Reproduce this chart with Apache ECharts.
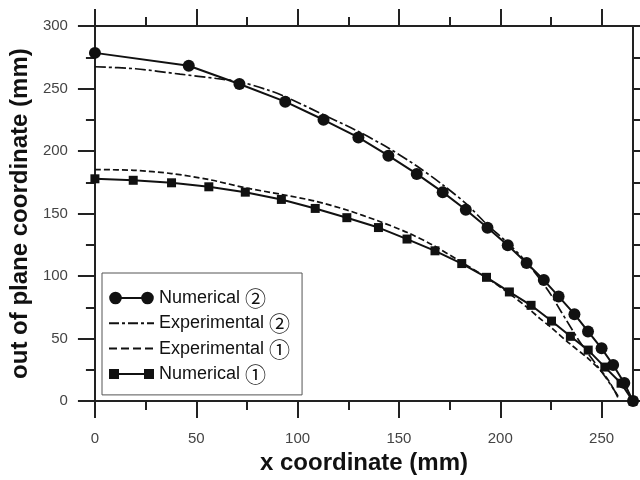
<!DOCTYPE html>
<html><head><meta charset="utf-8">
<script src="https://cdn.jsdelivr.net/npm/echarts@6/dist/echarts.min.js"></script>
<style>html,body{margin:0;padding:0;background:#fff}#c{width:640px;height:480px}</style>
</head><body><div id="c"></div>
<script>
// ---- data ----
const seriesNames = ['Numerical \u2461', 'Experimental \u2461', 'Experimental \u2460', 'Numerical \u2460'];

const num2X = [0, 46.3, 71.3, 93.9, 112.8, 130, 144.8, 158.8, 171.6, 183, 193.7, 203.7, 213, 221.5, 228.8, 236.6, 243.3, 250, 255.7, 261.2, 265.5];
const num2Y = [278.5, 268.2, 253.6, 239.5, 225, 210.9, 196.3, 181.7, 167.1, 153, 138.7, 124.7, 110.4, 96.8, 83.7, 69.5, 55.7, 42.2, 28.9, 14.5, 0];

const exp2X = [0, 20, 42, 60, 71.3, 85, 93.9, 112.8, 130, 144.8, 158.8, 172, 183.4, 193.3, 204, 214, 223.7, 230.2, 232.7, 239.3, 245.8, 252.4, 257.3, 259];
const exp2Y = [267.4, 265.8, 261.5, 258, 255.4, 249, 243.5, 229, 215.6, 202.4, 188, 172.5, 157.5, 141.5, 126, 109, 88.3, 71.1, 64.5, 47.3, 32.6, 18.1, 6.1, 2];

const exp1X = [0, 19.2, 37.8, 56.2, 74.2, 92, 108.7, 124.3, 139.9, 154.2, 167, 181, 193, 204.5, 214, 219.6, 225, 234.3, 243.4, 251.6, 256.5, 258];
const exp1Y = [185.2, 184.6, 182, 177.2, 170.6, 165.3, 159.9, 152.8, 144, 134.8, 124.5, 111, 99, 86, 74, 66, 59, 45.9, 34, 20.7, 8, 3];

const num1X = [0, 18.9, 37.8, 56.2, 74.2, 92, 108.7, 124.3, 139.9, 154, 167.8, 181, 193.2, 204.5, 215.2, 225.3, 234.6, 243.4, 251.6, 259.6, 265.5];
const num1Y = [177.8, 176.6, 174.6, 171.4, 167.1, 161.3, 154.1, 146.7, 138.8, 129.6, 120.2, 110, 99, 87.3, 76.6, 64, 51.8, 40.8, 27.2, 14.3, 0];

const xTicks = [0, 50, 100, 150, 200, 250];
const xMinorTicks = [25, 75, 125, 175, 225];
const yTicks = [0, 50, 100, 150, 200, 250, 300];
const yMinorTicks = [25, 75, 125, 175, 225, 275];
const xMin = 0, xMax = 265.5, yMin = 0, yMax = 300;

// ---- build ----
const pairs = (xs, ys) => xs.map((x, i) => [x, ys[i]]);
const FONT = "'Liberation Sans', Arial, 'DejaVu Sans', 'Noto Sans CJK JP', sans-serif";
const AX = '#222';

function xAx(pos, vals, len, withLabels) {
  return {
    type: 'value', position: pos, min: xMin, max: xMax,
    axisLine: { show: true, onZero: false, lineStyle: { color: AX, width: 2 } },
    axisTick: { show: true, inside: false, length: len, customValues: vals, lineStyle: { color: AX, width: 2 } },
    axisLabel: withLabels ? { show: true, customValues: vals, margin: 30, color: '#444', fontSize: 15, fontFamily: FONT } : { show: false },
    splitLine: { show: false }
  };
}
function yAx(pos, vals, len, withLabels) {
  return {
    type: 'value', position: pos, min: yMin, max: yMax,
    axisLine: { show: true, onZero: false, lineStyle: { color: AX, width: 2 } },
    axisTick: { show: true, inside: false, length: len, customValues: vals, lineStyle: { color: AX, width: 2 } },
    axisLabel: withLabels ? { show: true, customValues: vals, margin: 27, color: '#444', fontSize: 15, fontFamily: FONT } : { show: false },
    splitLine: { show: false }
  };
}

const xAxes = [
  Object.assign(xAx('bottom', xTicks, 17, true), {
    name: 'x coordinate (mm)', nameLocation: 'middle', nameGap: 42,
    nameTextStyle: { fontSize: 24, fontWeight: 'bold', color: '#111', fontFamily: FONT }
  }),
  xAx('bottom', xMinorTicks, 9, false),
  xAx('top', xTicks, 17, false),
  xAx('top', xMinorTicks, 9, false)
];
const yAxes = [
  Object.assign(yAx('left', yTicks, 17, true), {
    name: 'out of plane coordinate (mm)', nameLocation: 'middle', nameGap: 52,
    nameTextStyle: { fontSize: 24, fontWeight: 'bold', color: '#111', fontFamily: FONT }
  }),
  yAx('left', yMinorTicks, 9, false),
  yAx('right', yTicks, 17, false),
  yAx('right', yMinorTicks, 9, false)
];

// legend icons (45 x 13 box)
const bbox = 'M0,0 M45,13 ';
const iconCircles = bbox +
  'M0.2,6.5 A6.3,6.3 0 1,1 12.8,6.5 A6.3,6.3 0 1,1 0.2,6.5 Z ' +
  'M32.2,6.5 A6.3,6.3 0 1,1 44.8,6.5 A6.3,6.3 0 1,1 32.2,6.5 Z ' +
  'M6.5,5.5 L38.5,5.5 L38.5,7.5 L6.5,7.5 Z';
const iconDashDot = bbox +
  'M0,5.5 L10,5.5 L10,7.5 L0,7.5 Z M13,5.5 L16,5.5 L16,7.5 L13,7.5 Z ' +
  'M19,5.5 L29,5.5 L29,7.5 L19,7.5 Z M32,5.5 L35,5.5 L35,7.5 L32,7.5 Z ' +
  'M38,5.5 L45,5.5 L45,7.5 L38,7.5 Z';
const iconDash = bbox +
  'M0,5.5 L8,5.5 L8,7.5 L0,7.5 Z M12,5.5 L20,5.5 L20,7.5 L12,7.5 Z ' +
  'M24,5.5 L32,5.5 L32,7.5 L24,7.5 Z M36,5.5 L44,5.5 L44,7.5 L36,7.5 Z';
const iconSquares = bbox +
  'M0,1.5 L10,1.5 L10,11.5 L0,11.5 Z M35,1.5 L45,1.5 L45,11.5 L35,11.5 Z ' +
  'M5,5.5 L40,5.5 L40,7.5 L5,7.5 Z';
const icons = ['path://' + iconCircles, 'path://' + iconDashDot, 'path://' + iconDash, 'path://' + iconSquares];

const option = {
  animation: false,
  backgroundColor: '#fff',
  grid: { left: 94, right: 7, top: 26, bottom: 77, containLabel: false },
  xAxis: xAxes,
  yAxis: yAxes,
  legend: {
    orient: 'vertical', left: 102, top: 273,
    padding: [14.5, 12, 10.5, 7],
    itemGap: 4.3, itemWidth: 45, itemHeight: 13,
    borderColor: '#555', borderWidth: 1, backgroundColor: '#fff',
    selectedMode: false,
    symbolKeepAspect: true,
    formatter: function (n) {
      const i = n.lastIndexOf(' ');
      return '{t|' + n.slice(0, i) + '} {c|' + n.slice(i + 1) + '}';
    },
    textStyle: {
      fontSize: 18, color: '#111', fontFamily: FONT,
      rich: {
        t: { fontSize: 18, color: '#111', fontFamily: FONT },
        c: { fontSize: 21, color: '#111', fontFamily: "'Noto Sans CJK JP', 'DejaVu Sans', sans-serif" }
      }
    },
    data: seriesNames.map((n, i) => ({ name: n, icon: icons[i], itemStyle: { color: '#111' } }))
  },
  series: [
    { name: seriesNames[0], type: 'line', data: pairs(num2X, num2Y), clip: false,
      symbol: 'circle', symbolSize: 12, color: '#111',
      lineStyle: { color: '#111', width: 2 }, itemStyle: { color: '#111' }, z: 4 },
    { name: seriesNames[1], type: 'line', data: pairs(exp2X, exp2Y), clip: false,
      symbol: 'none', smooth: 0.3, color: '#111',
      lineStyle: { color: '#111', width: 1.7, type: [11, 3, 3, 3] }, z: 3 },
    { name: seriesNames[2], type: 'line', data: pairs(exp1X, exp1Y), clip: false,
      symbol: 'none', smooth: 0.3, color: '#111',
      lineStyle: { color: '#111', width: 1.7, type: [6, 3] }, z: 3 },
    { name: seriesNames[3], type: 'line', data: pairs(num1X, num1Y), clip: false,
      symbol: 'rect', symbolSize: 9, color: '#111',
      lineStyle: { color: '#111', width: 2 }, itemStyle: { color: '#111' }, z: 4 }
  ]
};
const chart = echarts.init(document.getElementById('c'), null, { renderer: 'canvas' });
chart.setOption(option);
</script>
</body></html>
